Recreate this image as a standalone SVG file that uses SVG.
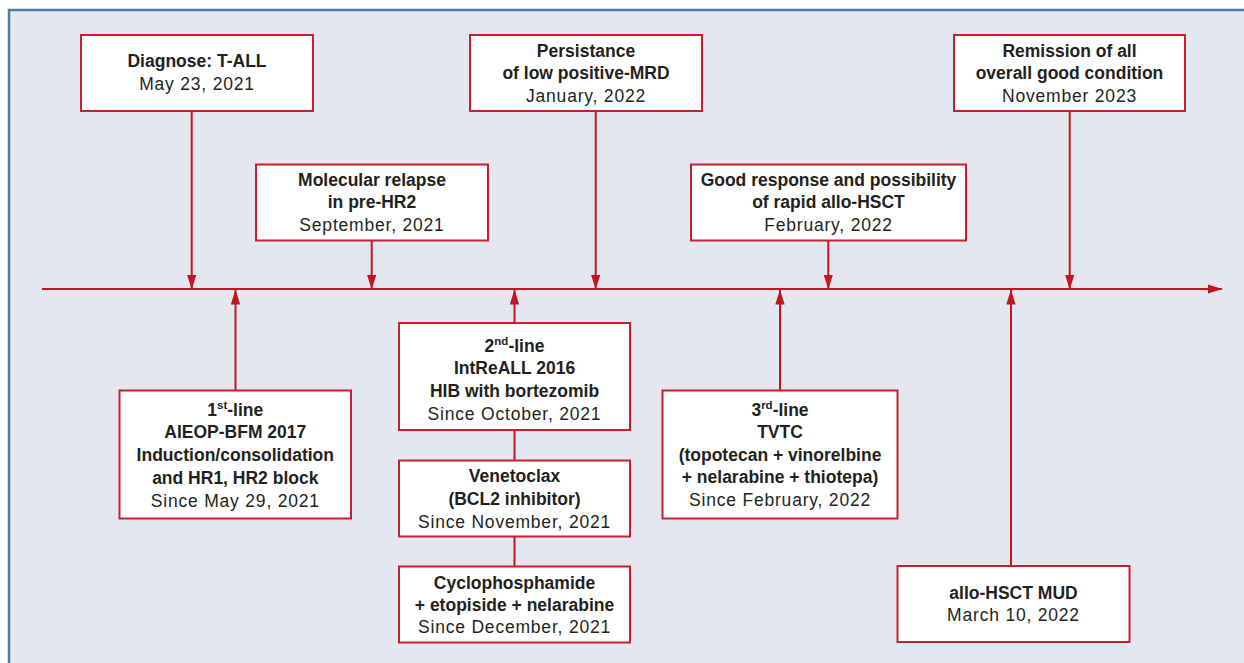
<svg xmlns="http://www.w3.org/2000/svg" width="1244" height="663" viewBox="0 0 1244 663">
<defs>
<style>
.box{fill:#ffffff;stroke:#c5202b;stroke-width:2}
.c{stroke:#c0161f;stroke-width:2;fill:none}
text{font-family:"Liberation Sans",Arial,sans-serif;fill:#231f20;text-anchor:middle;font-size:17.5px}
.b{font-weight:bold}
.r{letter-spacing:0.8px}
.sup{font-size:11.5px}
</style>
<marker id="ah" markerUnits="userSpaceOnUse" markerWidth="15" markerHeight="10" refX="14.5" refY="5" orient="auto">
<path d="M0,0.3 L15,5 L0,9.7 z" fill="#c0161f"/>
</marker>
</defs>
<rect x="0" y="0" width="1244" height="663" fill="#ffffff"/>
<rect x="9" y="10" width="1250" height="670" fill="#e4e7ef" stroke="#4a7ca5" stroke-width="2.5"/>

<g id="connectors">
<line class="c" x1="42" y1="289" x2="1222" y2="289" marker-end="url(#ah)"/>
<line class="c" x1="191.7" y1="111" x2="191.7" y2="289" marker-end="url(#ah)"/>
<line class="c" x1="371.7" y1="240.5" x2="371.7" y2="289" marker-end="url(#ah)"/>
<line class="c" x1="595.7" y1="111" x2="595.7" y2="289" marker-end="url(#ah)"/>
<line class="c" x1="828.3" y1="240.5" x2="828.3" y2="289" marker-end="url(#ah)"/>
<line class="c" x1="1069.7" y1="111" x2="1069.7" y2="289" marker-end="url(#ah)"/>
<line class="c" x1="235.5" y1="390.5" x2="235.5" y2="290" marker-end="url(#ah)"/>
<line class="c" x1="514.5" y1="323" x2="514.5" y2="290" marker-end="url(#ah)"/>
<line class="c" x1="780" y1="390.5" x2="780" y2="290" marker-end="url(#ah)"/>
<line class="c" x1="1011" y1="566" x2="1011" y2="290" marker-end="url(#ah)"/>
<line class="c" x1="514.5" y1="430" x2="514.5" y2="460.5"/>
<line class="c" x1="514.5" y1="536.5" x2="514.5" y2="566.5"/>
</g>

<g id="n-diagnose">
<rect class="box" x="81" y="35" width="232" height="76"/>
<text class="b" x="197" y="67">Diagnose: T-ALL</text>
<text class="r" x="197" y="90">May 23, 2021</text>
</g>
<g id="n-relapse">
<rect class="box" x="256" y="164.5" width="232" height="76"/>
<text class="b" x="372" y="185.5">Molecular relapse</text>
<text class="b" x="372" y="208">in pre-HR2</text>
<text class="r" x="372" y="230.5">September, 2021</text>
</g>
<g id="n-persistance">
<rect class="box" x="470" y="35" width="232" height="76"/>
<text class="b" x="586" y="56.5">Persistance</text>
<text class="b" x="586" y="79">of low positive-MRD</text>
<text class="r" x="586" y="101.5">January, 2022</text>
</g>
<g id="n-goodresponse">
<rect class="box" x="691" y="164.5" width="275" height="76"/>
<text class="b" x="828.5" y="185.5">Good response and possibility</text>
<text class="b" x="828.5" y="208">of rapid allo-HSCT</text>
<text class="r" x="828.5" y="230.5">February, 2022</text>
</g>
<g id="n-remission">
<rect class="box" x="954" y="35" width="231" height="76"/>
<text class="b" x="1069.5" y="56.5">Remission of all</text>
<text class="b" x="1069.5" y="79">overall good condition</text>
<text class="r" x="1069.5" y="101.5">November 2023</text>
</g>
<g id="n-firstline">
<rect class="box" x="119.5" y="390.5" width="231.5" height="128"/>
<text class="b" x="235.3" y="415.7">1<tspan class="sup" dy="-7">st</tspan><tspan dy="7">-line</tspan></text>
<text class="b" x="235.3" y="438.3">AIEOP-BFM 2017</text>
<text class="b" x="235.3" y="461">Induction/consolidation</text>
<text class="b" x="235.3" y="483.7">and HR1, HR2 block</text>
<text class="r" x="235.3" y="506.5">Since May 29, 2021</text>
</g>
<g id="n-secondline">
<rect class="box" x="399" y="323" width="231" height="107"/>
<text class="b" x="514.5" y="351.7">2<tspan class="sup" dy="-7">nd</tspan><tspan dy="7">-line</tspan></text>
<text class="b" x="514.5" y="374.4">IntReALL 2016</text>
<text class="b" x="514.5" y="397">HIB with bortezomib</text>
<text class="r" x="514.5" y="420">Since October, 2021</text>
</g>
<g id="n-venetoclax">
<rect class="box" x="399" y="460.5" width="231" height="76"/>
<text class="b" x="514.5" y="482">Venetoclax</text>
<text class="b" x="514.5" y="505">(BCL2 inhibitor)</text>
<text class="r" x="514.5" y="527.8">Since November, 2021</text>
</g>
<g id="n-cyclophosphamide">
<rect class="box" x="399" y="566.5" width="231" height="76"/>
<text class="b" x="514.5" y="588.8">Cyclophosphamide</text>
<text class="b" x="514.5" y="611.2">+ etopiside + nelarabine</text>
<text class="r" x="514.5" y="633">Since December, 2021</text>
</g>
<g id="n-thirdline">
<rect class="box" x="662.5" y="390.5" width="235" height="128"/>
<text class="b" x="780" y="415.8">3<tspan class="sup" dy="-7">rd</tspan><tspan dy="7">-line</tspan></text>
<text class="b" x="780" y="438.2">TVTC</text>
<text class="b" x="780" y="460.8">(topotecan + vinorelbine</text>
<text class="b" x="780" y="483.2">+ nelarabine + thiotepa)</text>
<text class="r" x="780" y="505.8">Since February, 2022</text>
</g>
<g id="n-allohsct">
<rect class="box" x="897.5" y="566" width="232" height="76"/>
<text class="b" x="1013.5" y="598.8">allo-HSCT MUD</text>
<text class="r" x="1013.5" y="620.8">March 10, 2022</text>
</g>
</svg>
